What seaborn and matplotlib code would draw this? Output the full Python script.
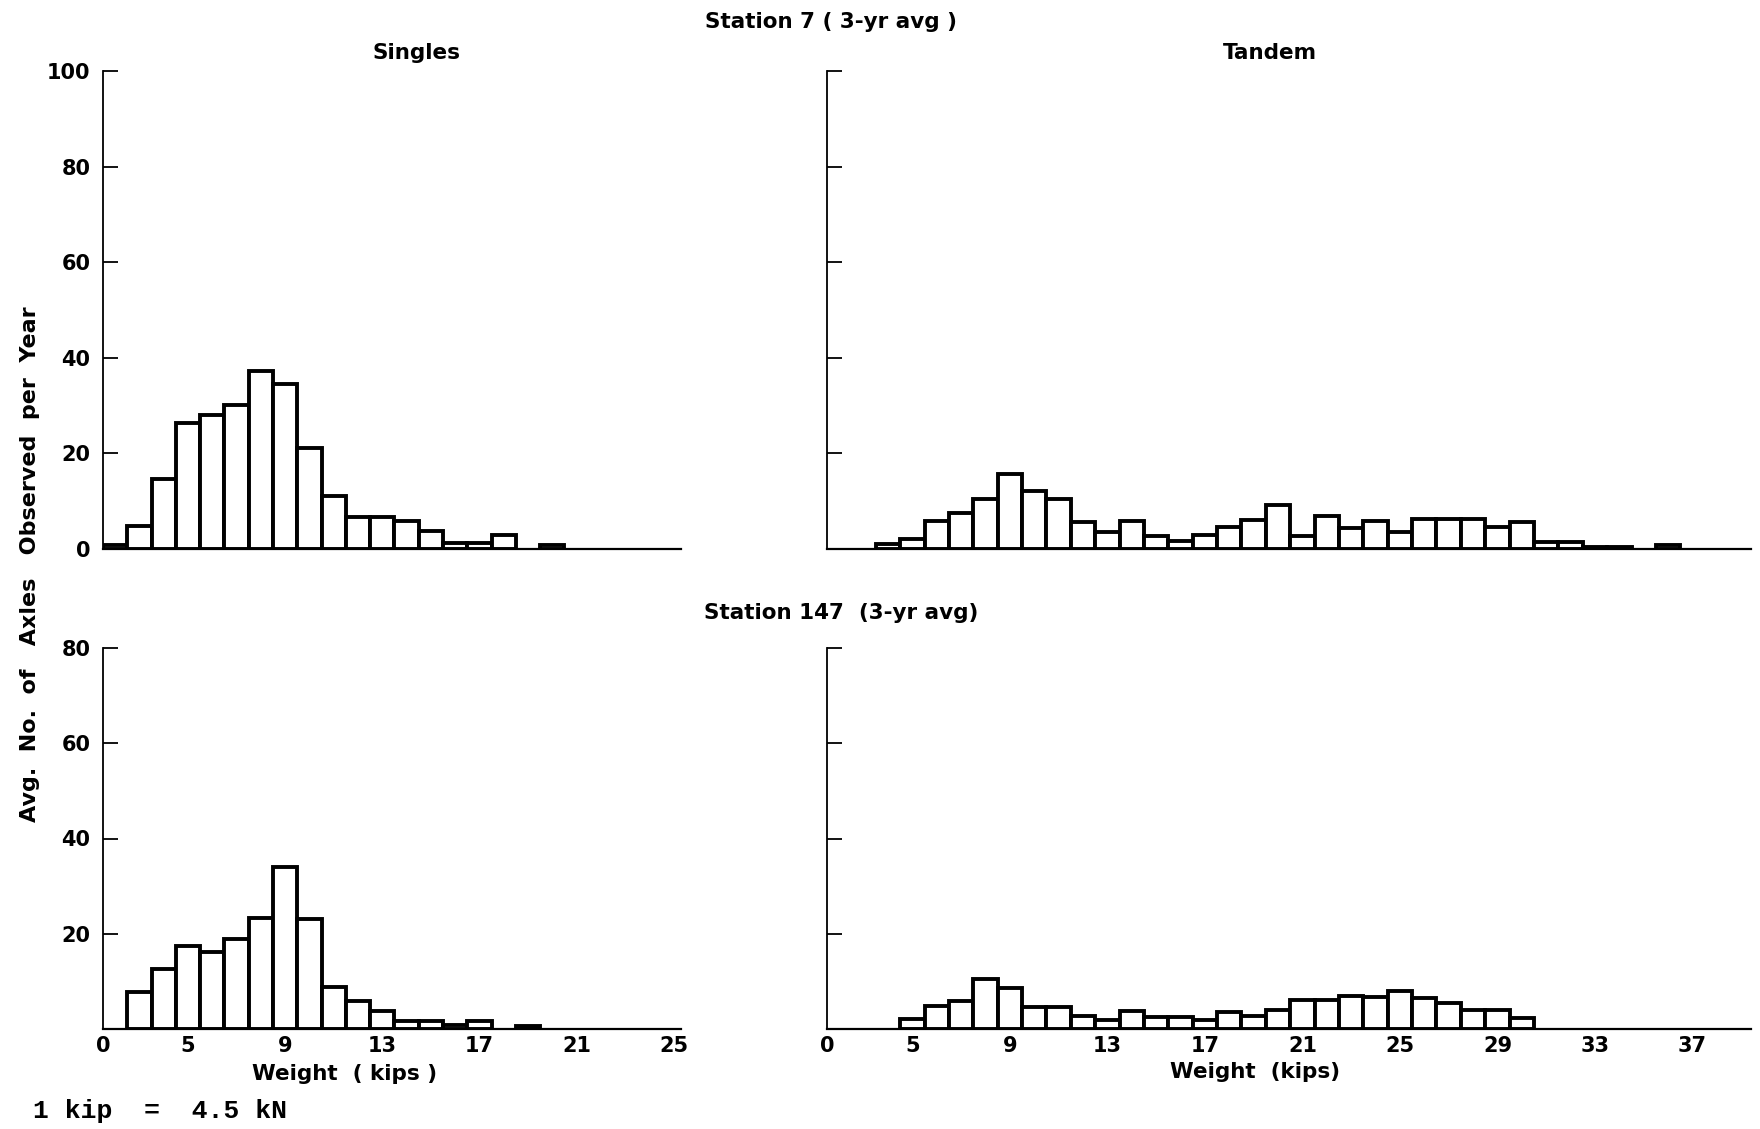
import numpy as np
import pandas as pd
import matplotlib
matplotlib.use("Agg")
import matplotlib.pyplot as plt
import seaborn as sns

# Axle-weight classes: 1-kip bins centred on whole kips
single_kips = list(range(2, 21))
st7_single = [0.9, 4.8, 14.7, 26.3, 28.1, 30.1, 37.3, 34.6, 21.2, 11.1, 6.7, 6.7,
              5.8, 3.8, 1.2, 1.2, 2.9, 0.0, 0.9]
st147_single = [0.0, 7.8, 12.5, 17.4, 16.2, 18.8, 23.3, 34.0, 23.0, 8.9, 5.8, 3.7,
                1.6, 1.6, 0.9, 1.6, 0.0, 0.7, 0.0]

tandem_kips = list(range(4, 37))
st7_tandem = [1.0, 2.1, 5.8, 7.6, 10.4, 15.6, 12.2, 10.4, 5.7, 3.6, 5.8, 2.7, 1.6,
              3.0, 4.6, 6.1, 9.2, 2.8, 6.9, 4.3, 5.8, 3.6, 6.3, 6.2, 6.2, 4.6, 5.6,
              1.5, 1.5, 0.5, 0.5, 0.0, 0.8]
st147_tandem = [0.0, 2.1, 4.9, 5.9, 10.5, 8.7, 4.6, 4.6, 2.8, 1.8, 3.8, 2.6, 2.6,
                1.8, 3.5, 2.8, 3.9, 6.0, 6.0, 6.9, 6.7, 8.0, 6.5, 5.4, 3.9, 3.9, 2.4,
                0.0, 0.0, 0.0, 0.0, 0.0, 0.0]

single_ticks = [1.5, 5, 9, 13, 17, 21, 25]
single_ticklabels = ["0", "5", "9", "13", "17", "21", "25"]
tandem_ticks = [1.5, 5, 9, 13, 17, 21, 25, 29, 33, 37]
tandem_ticklabels = ["0", "5", "9", "13", "17", "21", "25", "29", "33", "37"]

sns.set_style("ticks")
plt.rcParams["font.family"] = ["DejaVu Sans"]
plt.rcParams["font.weight"] = "bold"
plt.rcParams["text.color"] = "black"
plt.rcParams["axes.labelcolor"] = "black"
plt.rcParams["axes.edgecolor"] = "black"

W, H = 1760, 1129
fig = plt.figure(figsize=(W / 100, H / 100), dpi=100)


def frac_rect(left, top, right, bottom):
    return [left / W, 1 - bottom / H, (right - left) / W, (bottom - top) / H]


ax_s7 = fig.add_axes(frac_rect(103, 71, 681, 549))
ax_t7 = fig.add_axes(frac_rect(827, 71, 1751, 549))
ax_s147 = fig.add_axes(frac_rect(103, 648, 681, 1029))
ax_t147 = fig.add_axes(frac_rect(827, 648, 1751, 1029))


def draw_hist(ax, kips, vals, xmax, ymax):
    df = pd.DataFrame({"kips": kips, "axles": vals})
    sns.histplot(data=df, x="kips", weights="axles", binwidth=1.0,
                 binrange=(min(kips) - 0.5, max(kips) + 0.5), ax=ax,
                 stat="count", element="bars", fill=True, color="white",
                 edgecolor="black", linewidth=2.8, alpha=1)
    for p in list(ax.patches):
        if p.get_height() <= 0:
            p.remove()
    ax.set_xlim(1.5, xmax)
    ax.set_ylim(0, ymax)
    ax.set_xlabel("")
    ax.set_ylabel("")
    sns.despine(ax=ax)
    ax.spines["left"].set_linewidth(1.3)
    ax.spines["bottom"].set_linewidth(1.6)
    ax.tick_params(axis="y", direction="in", length=11, width=1.3, pad=9,
                   labelsize=15, color="black", labelcolor="black")
    ax.tick_params(axis="x", length=0, pad=5, labelsize=15, labelcolor="black")


draw_hist(ax_s7, single_kips, st7_single, 25.3, 100)
draw_hist(ax_t7, tandem_kips, st7_tandem, 39.4, 100)
draw_hist(ax_s147, single_kips, st147_single, 25.3, 80)
draw_hist(ax_t147, tandem_kips, st147_tandem, 39.4, 80)

ax_s7.set_yticks([0, 20, 40, 60, 80, 100])
ax_t7.set_yticks([20, 40, 60, 80, 100])
ax_t7.tick_params(axis="y", labelleft=False)
ax_s147.set_yticks([20, 40, 60, 80])
ax_t147.set_yticks([20, 40, 60, 80])
ax_t147.tick_params(axis="y", labelleft=False)

for ax in (ax_s7, ax_t7):
    ax.set_xticks([])
ax_s147.set_xticks(single_ticks, single_ticklabels)
ax_t147.set_xticks(tandem_ticks, tandem_ticklabels)

for ax in (ax_s7, ax_t7, ax_s147, ax_t147):
    for lab in ax.get_xticklabels() + ax.get_yticklabels():
        lab.set_fontweight("bold")


def ftext(x, y, s, **kw):
    fig.text(x / W, 1 - y / H, s, ha=kw.pop("ha", "center"), va=kw.pop("va", "center"),
             color="black", **kw)


ftext(831, 22, "Station 7 ( 3-yr avg )", fontsize=15.5, fontweight="bold")
ftext(416, 53, "Singles", fontsize=15.5, fontweight="bold")
ftext(1270, 53, "Tandem", fontsize=15.5, fontweight="bold")
ftext(841, 613, "Station 147  (3-yr avg)", fontsize=15.5, fontweight="bold")
ftext(30, 564, "Avg.  No.  of   Axles   Observed  per  Year", fontsize=16,
      fontweight="bold", rotation=90)
ftext(345, 1074, "Weight  ( kips )", fontsize=15.5, fontweight="bold")
ftext(1255, 1072, "Weight  (kips)", fontsize=15.5, fontweight="bold")
ftext(33, 1111, "1 kip  =  4.5 kN", fontsize=19, ha="left",
      family="Liberation Mono", fontweight="bold")

fig.savefig("out.png", dpi=100, facecolor="white")
